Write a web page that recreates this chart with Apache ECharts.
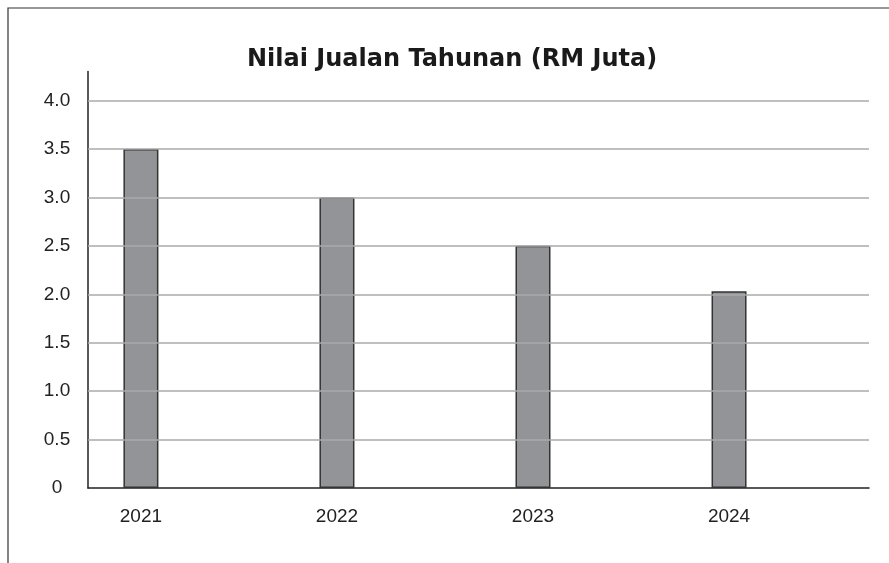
<!DOCTYPE html>
<html>
<head>
<meta charset="utf-8">
<script src="https://cdn.jsdelivr.net/npm/echarts@6/dist/echarts.min.js"></script>
<style>html,body{margin:0;padding:0;background:#fff}#c{width:889px;height:563px}</style>
</head>
<body>
<div id="c"></div>
<script>
const categories = ['2021', '2022', '2023', '2024'];
const values = [3.5, 3.0, 2.5, 2.03];
const yTicks = [0, 0.5, 1.0, 1.5, 2.0, 2.5, 3.0, 3.5, 4.0];
const titleText = 'Nilai Jualan Tahunan (RM Juta)';

const chart = echarts.init(document.getElementById('c'), null, {renderer: 'canvas'});
const fmtY = v => (v === 0 ? '0' : v.toFixed(1));
chart.setOption({
  animation: false,
  backgroundColor: '#fff',
  title: {
    text: titleText,
    left: 247,
    top: 48,
    padding: 0,
    textStyle: {fontFamily: 'DejaVu Sans', fontWeight: 'bold', fontSize: 24, color: '#1a1a1a'}
  },
  graphic: [{
    type: 'rect',
    shape: {x: 8, y: 8, width: 1000, height: 700},
    style: {fill: 'none', stroke: '#333', lineWidth: 1.2},
    silent: true
  }],
  grid: {left: 88, right: 20, top: 71.5, bottom: 75, containLabel: false},
  xAxis: {
    type: 'value',
    min: -0.27,
    max: 3.714,
    splitLine: {show: false},
    axisLine: {show: true, onZero: false, lineStyle: {color: '#222', width: 1.5}},
    axisTick: {show: false},
    axisLabel: {
      customValues: categories.map((c, i) => i),
      formatter: v => categories[Math.round(v)],
      margin: 19,
      fontFamily: 'Liberation Sans',
      fontSize: 19,
      color: '#222'
    }
  },
  yAxis: {
    type: 'value',
    min: 0,
    max: 4.3,
    axisLine: {show: true, onZero: false, lineStyle: {color: '#222', width: 1.5}},
    axisTick: {show: false},
    splitLine: {show: false},
    axisLabel: {
      customValues: yTicks,
      formatter: fmtY,
      align: 'center',
      margin: 31,
      fontFamily: 'Liberation Sans',
      fontSize: 19,
      color: '#222'
    }
  },
  series: [{
    type: 'line',
    silent: true,
    data: [],
    markLine: {
      silent: true,
      symbol: 'none',
      label: {show: false},
      lineStyle: {color: '#aaa', width: 1.5, type: 'solid'},
      data: yTicks.filter(v => v > 0).map(v => ({yAxis: v}))
    }
  }, {
    type: 'bar',
    barWidth: 35,
    data: values.map((v, i) => [i, v]),
    itemStyle: {color: '#939497', borderColor: '#333', borderWidth: 1.5},
    z: 3
  }]
});
</script>
</body>
</html>
